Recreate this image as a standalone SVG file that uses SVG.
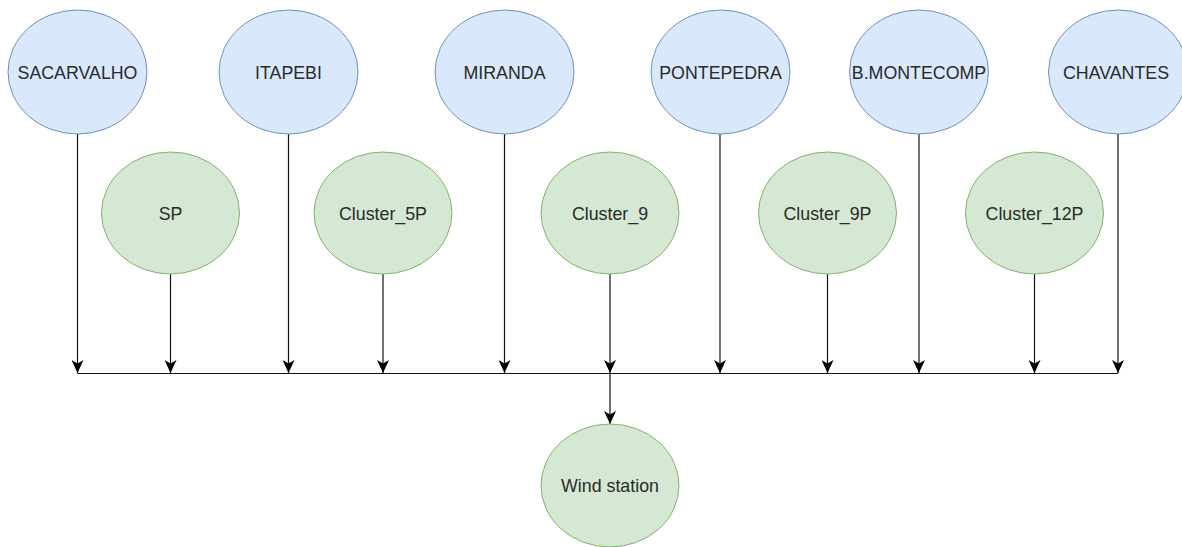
<svg xmlns="http://www.w3.org/2000/svg" width="1182" height="547" viewBox="0 0 1182 547">
<defs>
<style>
.blue{fill:#dae8fc;stroke:#6c8ebf;stroke-width:1}
.green{fill:#d5e8d4;stroke:#82b366;stroke-width:1}
.lbl{font-family:"Liberation Sans",Arial,sans-serif;font-size:17.8px;fill:#2a2a2a;text-anchor:middle}
.edge{fill:none;stroke:#111;stroke-width:1.2}
</style>
<marker id="arr" viewBox="0 0 13 12" refX="13" refY="6" markerWidth="13" markerHeight="12" markerUnits="userSpaceOnUse" orient="auto">
<path d="M0,0 L13,6 L0,12 L3.5,6 Z" fill="#000"/>
</marker>
</defs>
<rect width="1182" height="547" fill="#fff"/>
<g id="connectors">
<path class="edge" d="M77.5,134 V373" marker-end="url(#arr)"/>
<path class="edge" d="M170.5,274 V373" marker-end="url(#arr)"/>
<path class="edge" d="M288.5,134 V373" marker-end="url(#arr)"/>
<path class="edge" d="M383,274 V373" marker-end="url(#arr)"/>
<path class="edge" d="M504.5,134 V373" marker-end="url(#arr)"/>
<path class="edge" d="M610,274 V373" marker-end="url(#arr)"/>
<path class="edge" d="M720,134 V373" marker-end="url(#arr)"/>
<path class="edge" d="M827.5,274 V373" marker-end="url(#arr)"/>
<path class="edge" d="M919,134 V373" marker-end="url(#arr)"/>
<path class="edge" d="M1034.5,274 V373" marker-end="url(#arr)"/>
<path class="edge" d="M1118,134 V373" marker-end="url(#arr)"/>
<path class="edge" d="M77.5,373.5 H1118"/>
<path class="edge" d="M610,373.5 V424" marker-end="url(#arr)"/>
</g>
<g id="SACARVALHO"><ellipse class="blue" cx="77.5" cy="72" rx="69.5" ry="62"/><text class="lbl" x="77.5" y="78.5">SACARVALHO</text></g>
<g id="ITAPEBI"><ellipse class="blue" cx="288.5" cy="72" rx="69.5" ry="62"/><text class="lbl" x="288.5" y="78.5">ITAPEBI</text></g>
<g id="MIRANDA"><ellipse class="blue" cx="504.5" cy="72" rx="69.5" ry="62"/><text class="lbl" x="504.5" y="78.5">MIRANDA</text></g>
<g id="PONTEPEDRA"><ellipse class="blue" cx="720.5" cy="72" rx="69.5" ry="62"/><text class="lbl" x="720.5" y="78.5">PONTEPEDRA</text></g>
<g id="BMONTECOMP"><ellipse class="blue" cx="919" cy="72" rx="69.5" ry="62"/><text class="lbl" x="919" y="78.5">B.MONTECOMP</text></g>
<g id="CHAVANTES"><ellipse class="blue" cx="1118" cy="72" rx="69.5" ry="62"/><text class="lbl" x="1116" y="78.5">CHAVANTES</text></g>
<g id="SP"><ellipse class="green" cx="170.5" cy="213" rx="69" ry="61"/><text class="lbl" x="170.5" y="219.5">SP</text></g>
<g id="Cluster_5P"><ellipse class="green" cx="383" cy="213" rx="69" ry="61"/><text class="lbl" x="383" y="219.5">Cluster_5P</text></g>
<g id="Cluster_9"><ellipse class="green" cx="610" cy="213" rx="69" ry="61"/><text class="lbl" x="610" y="219.5">Cluster_9</text></g>
<g id="Cluster_9P"><ellipse class="green" cx="827.5" cy="213" rx="69" ry="61"/><text class="lbl" x="827.5" y="219.5">Cluster_9P</text></g>
<g id="Cluster_12P"><ellipse class="green" cx="1034.5" cy="213" rx="69" ry="61"/><text class="lbl" x="1034.5" y="219.5">Cluster_12P</text></g>
<g id="WindStation"><ellipse class="green" cx="610" cy="485.5" rx="69" ry="61.5"/><text class="lbl" x="610" y="492">Wind station</text></g>
</svg>
